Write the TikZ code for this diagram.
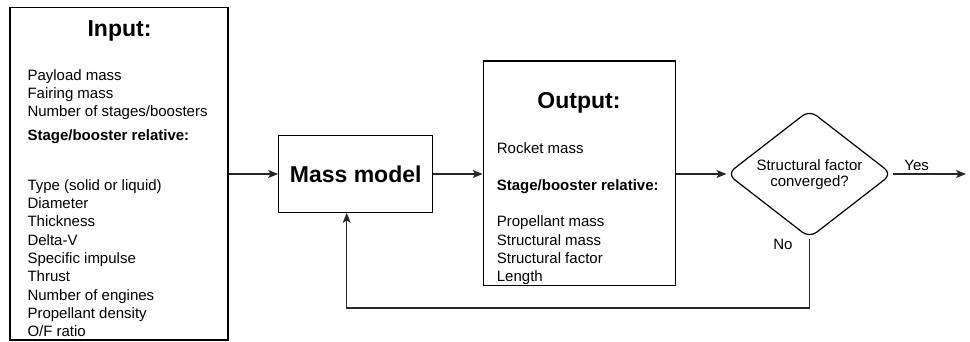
\documentclass[tikz,border=0pt]{standalone}
\usepackage{fontspec}
\setmainfont{Liberation Sans}
\usetikzlibrary{shapes.geometric,arrows.meta}
\begin{document}
\begin{tikzpicture}[x=1pt,y=-1pt,
 box/.style={draw=black,line width=1.2pt,inner sep=0pt},
 arr/.style={line width=1.2pt,draw=black!85,-{Stealth[length=10pt,width=8pt,inset=2.5pt]}},
 body/.style={anchor=base west,inner sep=0pt,font=\fontsize{15}{18}\selectfont},
 boldl/.style={anchor=base west,inner sep=0pt,font=\fontsize{15}{18}\selectfont\bfseries},
 titl/.style={anchor=base,inner sep=0pt,font=\fontsize{23}{27}\selectfont\bfseries},
 lbl/.style={anchor=base,inner sep=0pt,font=\fontsize{15}{18}\selectfont}]
\useasboundingbox (0,0) rectangle (970,341);

% Input box
\node[box,minimum width=218pt,minimum height=332.5pt] (in) at (119,173.7) {};
\node[titl] (inT) at (119.5,36) {Input:};
\node[body] (i1) at (27.3,80) {Payload mass};
\node[body] (i2) at (27.3,98.3) {Fairing mass};
\node[body] (i3) at (27.3,116.6) {Number of stages/boosters};
\node[boldl] (i4) at (27.3,140.5) {Stage/booster relative:};
\node[body] (i5) at (27.3,190) {Type (solid or liquid)};
\node[body] (i6) at (27.3,208.3) {Diameter};
\node[body] (i7) at (27.3,226.7) {Thickness};
\node[body] (i8) at (27.3,245) {Delta-V};
\node[body] (i9) at (27.3,263.3) {Specific impulse};
\node[body] (i10) at (27.3,281.7) {Thrust};
\node[body] (i11) at (27.3,300) {Number of engines};
\node[body] (i12) at (27.3,318.3) {Propellant density};
\node[body] (i13) at (27.3,336.7) {O/F ratio};

% Mass model
\node[box,minimum width=154pt,minimum height=76.6pt,font=\fontsize{23}{27}\selectfont\bfseries] (mm) at (355.7,174) {Mass model};

% Output box
\node[box,minimum width=192.4pt,minimum height=224.7pt] (out) at (579.5,173.3) {};
\node[titl] (outT) at (579,108.3) {Output:};
\node[body] (o1) at (496.7,153) {Rocket mass};
\node[boldl] (o2) at (496.7,190.5) {Stage/booster relative:};
\node[body] (o3) at (496.7,226.7) {Propellant mass};
\node[body] (o4) at (496.7,245) {Structural mass};
\node[body] (o5) at (496.7,263.3) {Structural factor};
\node[body] (o6) at (496.7,281.7) {Length};

% Decision
\node[diamond,draw=black,line width=1.2pt,minimum width=165pt,minimum height=128pt,inner sep=0pt,rounded corners=9pt] (dia) at (809.5,174) {};
\node[lbl] (d1) at (809.5,170.7) {Structural factor};
\node[lbl] (d2) at (809.5,186.7) {converged?};

\coordinate (yesend) at (966,174);
\coordinate (fb) at (346.7,308);
\node[lbl] (yes) at (916.7,170.7) {Yes};
\node[lbl] (no) at (783,249) {No};

% Connectors
\draw[arr] (in.east |- mm.west) -- (mm.west);
\draw[arr] (mm.east) -- (mm.east -| out.west);
\draw[arr] (out.east |- dia.west) -- (dia.west);
\draw[arr] (dia.east) -- (yesend);
\draw[arr] (dia.south) |- (fb) -- (fb |- mm.south);
\end{tikzpicture}
\end{document}
